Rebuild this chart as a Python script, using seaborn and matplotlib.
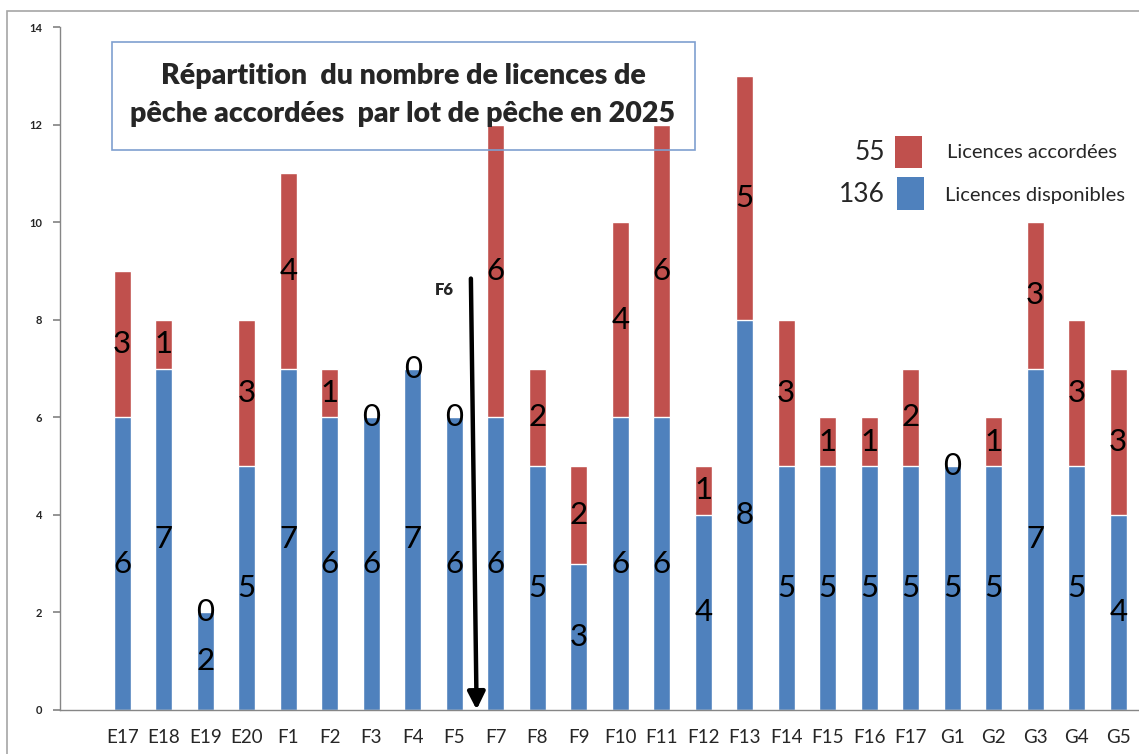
import matplotlib
matplotlib.use("Agg")
import matplotlib.pyplot as plt
from matplotlib.patches import Rectangle
import seaborn as sns
import pandas as pd

# lots de pêche
lots = ["E17", "E18", "E19", "E20", "F1", "F2", "F3", "F4", "F5", "F7", "F8", "F9",
        "F10", "F11", "F12", "F13", "F14", "F15", "F16", "F17", "G1", "G2", "G3", "G4", "G5"]
disponibles = [6, 7, 2, 5, 7, 6, 6, 7, 6, 6, 5, 3, 6, 6, 4, 8, 5, 5, 5, 5, 5, 5, 7, 5, 4]
accordees = [3, 1, 0, 3, 4, 1, 0, 0, 0, 6, 2, 2, 4, 6, 1, 5, 3, 1, 1, 2, 0, 1, 3, 3, 3]
y_ticks = [0, 2, 4, 6, 8, 10, 12, 14]

BLUE = "#4F81BD"
RED = "#C0504D"

sns.set_theme(style="white")
plt.rcParams["font.family"] = ["Lato", "DejaVu Sans"]

df = pd.DataFrame({"lot": lots, "disponibles": disponibles, "accordees": accordees})
df["total"] = df["disponibles"] + df["accordees"]

W, H = 1139, 754
fig = plt.figure(figsize=(W / 100, H / 100), dpi=100)
ax = fig.add_axes([60 / W, 1 - 710 / H, 1 - 60 / W, (710 - 27) / H])

sns.barplot(data=df, x="lot", y="total", color=RED, width=0.42, errorbar=None,
            saturation=1, ax=ax)
sns.barplot(data=df, x="lot", y="disponibles", color=BLUE, width=0.42, errorbar=None,
            saturation=1, ax=ax)

for i, (b, r) in enumerate(zip(disponibles, accordees)):
    ax.text(i, b / 2, str(b), ha="center", va="center", fontsize=22.5, color="black")
    ax.text(i, b + r / 2, str(r), ha="center", va="center", fontsize=22.5, color="black")

ax.set_xlim(-1.46, 24.35)
ax.set_ylim(0, 14)
ax.set_yticks(y_ticks)
ax.set_yticklabels([str(v) for v in y_ticks], fontsize=8, fontweight="bold")
ax.set_xticks(range(len(lots)))
ax.set_xticklabels(lots, fontsize=13.5)
ax.set_xticks([i - 0.5 for i in range(-1, len(lots) + 1)], minor=True)
ax.tick_params(axis="x", which="major", length=0, pad=14)
ax.tick_params(axis="x", which="minor", length=5, color="#868686", direction="out")
ax.tick_params(axis="y", length=5, color="#868686", direction="out", left=True, pad=8)
ax.set_xlabel("")
ax.set_ylabel("")
for side in ["top", "right"]:
    ax.spines[side].set_visible(False)
for side in ["left", "bottom"]:
    ax.spines[side].set_color("#868686")
    ax.spines[side].set_linewidth(1)

# flèche F6
ax.annotate("", xy=(8.54, -0.05), xytext=(8.40, 8.9),
            arrowprops=dict(arrowstyle="-|>", color="black", lw=3.2, mutation_scale=26),
            annotation_clip=False)
ax.text(7.75, 8.6, "F6", ha="center", va="center", fontsize=12, fontweight="heavy")

# cadre extérieur
fig.patches.append(Rectangle((7 / W, -0.1), 1.2, 1 - 11 / H + 0.1, transform=fig.transFigure,
                             fill=False, edgecolor="#A6A6A6", lw=1.2))

# titre encadré
fig.patches.append(Rectangle((112 / W, 1 - 150 / H), (695 - 112) / W, (150 - 42) / H,
                             transform=fig.transFigure, fill=False, edgecolor="#7F9FCF",
                             lw=1.2, zorder=5))
fig.text(403 / W, 1 - 76 / H, "Répartition  du nombre de licences de", ha="center",
         va="center", fontsize=20.5, fontweight="heavy", zorder=6)
fig.text(403 / W, 1 - 114 / H, "pêche accordées  par lot de pêche en 2025", ha="center",
         va="center", fontsize=20.5, fontweight="heavy", zorder=6)

# légende
fig.patches.append(Rectangle((895 / W, 1 - 168 / H), 27 / W, 32 / H, transform=fig.transFigure,
                             facecolor=RED, edgecolor="none", zorder=5))
fig.patches.append(Rectangle((897 / W, 1 - 210 / H), 27 / W, 33 / H, transform=fig.transFigure,
                             facecolor=BLUE, edgecolor="none", zorder=5))
fig.text(885 / W, 1 - 152 / H, str(sum(accordees)), ha="right", va="center", fontsize=19)
fig.text(885 / W, 1 - 195 / H, str(sum(disponibles)), ha="right", va="center", fontsize=19)
fig.text(947 / W, 1 - 153 / H, "Licences accordées", ha="left", va="center", fontsize=14.5)
fig.text(945 / W, 1 - 195 / H, "Licences disponibles", ha="left", va="center", fontsize=14.5)

fig.savefig("out.png", dpi=100)
